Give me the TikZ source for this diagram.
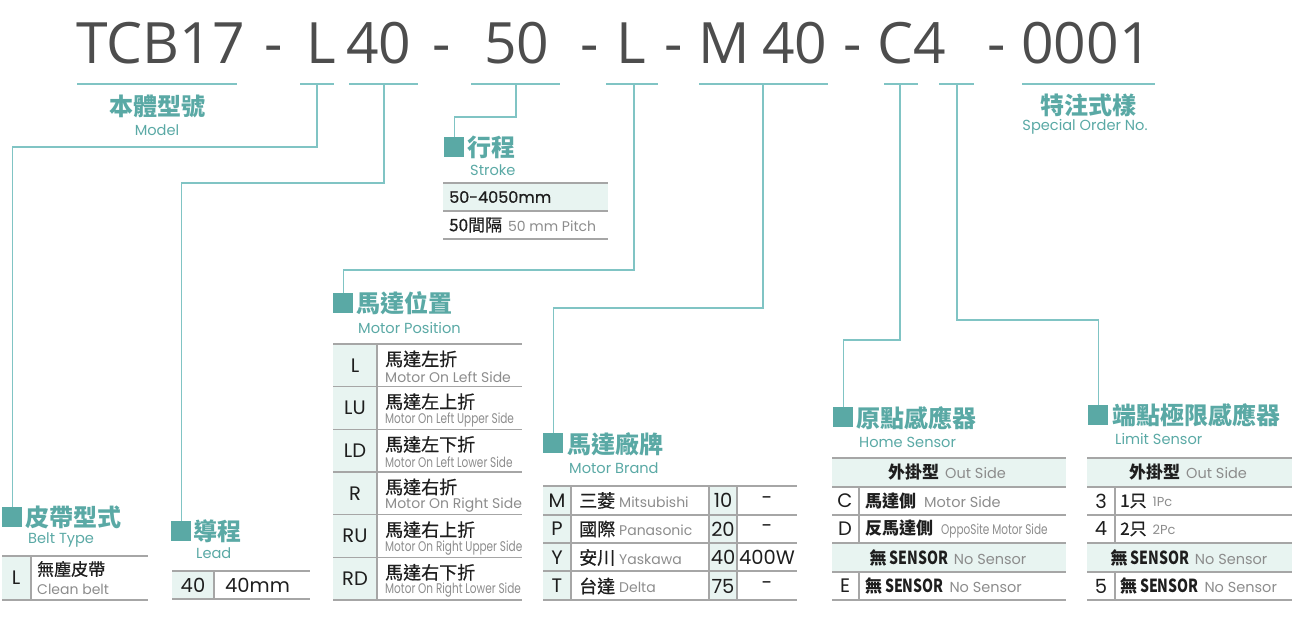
\documentclass[tikz,border=0pt]{standalone}
\usepackage{fontspec}
\usepackage{graphicx}
\setmainfont{Open Sans}
\newfontfamily\cjk{Noto Sans CJK TC}
\newfontfamily\cjkm{Noto Sans CJK TC}[FakeBold=0.6]
\newfontfamily\lat{Poppins}
\newfontfamily\latm{Poppins}[FakeBold=0.5]
\definecolor{teal1}{HTML}{5AA9A5}
\definecolor{lnc}{HTML}{80C4C4}
\definecolor{lbg}{HTML}{E8F4F1}
\definecolor{gridc}{HTML}{A6A6A6}
\definecolor{codec}{HTML}{4D4D4D}
\definecolor{gtx}{HTML}{8C8C8C}
\definecolor{dtx}{HTML}{1E1E1E}
\newcommand{\gr}[1]{\textcolor{gtx}{\lat #1}}
\newcommand{\cond}[1]{\scalebox{0.75}[1]{#1}}
\newcommand{\sen}{{\cjk\bfseries 無}\,\scalebox{0.78}[1]{\cjk\bfseries\fontsize{18}{18}\selectfont SENSOR}}
\begin{document}
\begin{tikzpicture}[x=1pt,y=-1pt,
  codetxt/.style={anchor=base west, inner sep=0, text=codec, font=\fontsize{57}{57}\selectfont},
  uline/.style={draw=lnc, line width=1.3pt},
  conn/.style={draw=lnc, line width=1.3pt},
  sq/.style={fill=teal1, minimum size=20pt, inner sep=0, anchor=north west},
  ttl/.style={anchor=west, inner sep=0, text=teal1, font=\cjk\bfseries\fontsize{24}{24}\selectfont},
  sub/.style={anchor=west, inner sep=0, text=teal1, font=\lat\fontsize{14.6}{14.6}\selectfont},
  gl/.style={draw=gridc, line width=1.2pt},
  bgc/.style={fill=lbg},
  cn/.style={anchor=west, inner sep=0, text=dtx, font=\cjkm\fontsize{17}{17}\selectfont},
  en/.style={anchor=west, inner sep=0, text=gtx, font=\lat\fontsize{13}{13}\selectfont},
  cd/.style={inner sep=0, text=dtx, font=\lat\fontsize{19.5}{19.5}\selectfont},
]
\useasboundingbox (0,0) rectangle (1300,616);

% ---------- code line ----------
\node[codetxt] (c1) at (76,63) {TCB17};
\node[codetxt] (c2) at (264,63) {-};
\node[codetxt] (c3) at (306,63) {L};
\node[codetxt] (c4) at (346,63) {40};
\node[codetxt] (c5) at (432,63) {-};
\node[codetxt] (c6) at (484,63) {50};
\node[codetxt] (c7) at (580,63) {-};
\node[codetxt] (c8) at (616,63) {L};
\node[codetxt] (c9) at (664,63) {-};
\node[codetxt] (c10) at (698,63) {M};
\node[codetxt] (c11) at (762,63) {40};
\node[codetxt] (c12) at (843,63) {-};
\node[codetxt] (c13) at (877,63) {C4};
\node[codetxt] (c14) at (987,63) {-};
\node[codetxt] (c15) at (1021,63) {0001};

% underlines
\draw[uline] (77,84) -- (237,84);
\draw[uline] (300,84) -- (334,84);
\draw[uline] (349,84) -- (418,84);
\draw[uline] (471,84) -- (560,84);
\draw[uline] (606,84) -- (658,84);
\draw[uline] (699,84) -- (828,84);
\draw[uline] (884,84) -- (918,84);
\draw[uline] (939,84) -- (974,84);
\draw[uline] (1022,84) -- (1155,84);

% ---------- squares ----------
\node[sq] (sqBelt) at (2,507) {};
\node[sq] (sqLead) at (171,521) {};
\node[sq] (sqStroke) at (444,137) {};
\node[sq] (sqPos) at (333,293) {};
\node[sq] (sqBrand) at (543,433) {};
\node[sq] (sqHome) at (833,407) {};
\node[sq] (sqLim) at (1088,405) {};

% ---------- connectors ----------
\coordinate (t1) at (317,84);  \coordinate (k1) at (317,147);
\coordinate (t2) at (384,84);  \coordinate (k2) at (384,183);
\coordinate (t3) at (516,84);  \coordinate (k3) at (516,117);
\coordinate (t4) at (634,84);  \coordinate (k4) at (634,270);
\coordinate (t5) at (763,84);  \coordinate (k5) at (763,308);
\coordinate (t6) at (900,84);  \coordinate (k6) at (900,340);
\coordinate (t7) at (957,84);  \coordinate (k7) at (957,320);
\draw[conn] (t1) -- (k1) -| (sqBelt.north);
\draw[conn] (t2) -- (k2) -| (sqLead.north);
\draw[conn] (t3) -- (k3) -| (sqStroke.north);
\draw[conn] (t4) -- (k4) -| (sqPos.north);
\draw[conn] (t5) -- (k5) -| (sqBrand.north);
\draw[conn] (t6) -- (k6) -| (sqHome.north);
\draw[conn] (t7) -- (k7) -| (sqLim.north);

% ---------- titles ----------
\node[ttl, anchor=center] (tModel) at (157,106) {本體型號};
\node[sub, anchor=center] (sModel) at (157,130) {Model};
\node[ttl, anchor=center] (tSpec) at (1088,105) {特注式樣};
\node[sub, anchor=center] (sSpec) at (1085,127) {Special Order No.};
\node[ttl] (tBelt) at (25,517) {皮帶型式};
\node[sub] (sBelt) at (28,540) {Belt Type};
\node[ttl] (tLead) at (193,531) {導程};
\node[sub] (sLead) at (196,553) {Lead};
\node[ttl] (tStroke) at (467,147) {行程};
\node[sub] (sStroke) at (470,170) {Stroke};
\node[ttl] (tPos) at (356,303) {馬達位置};
\node[sub] (sPos) at (358,328) {Motor Position};
\node[ttl] (tBrand) at (567,444) {馬達廠牌};
\node[sub] (sBrand) at (569,468) {Motor Brand};
\node[ttl] (tHome) at (856,418) {原點感應器};
\node[sub] (sHome) at (859,442) {Home Sensor};
\node[ttl] (tLim) at (1112,415) {端點極限感應器};
\node[sub] (sLim) at (1115,439) {Limit Sensor};

% ---------- Belt table ----------
\fill[bgc] (2,556) rectangle (31,600);
\draw[gl] (2,556) -- (148,556);
\draw[gl] (2,600) -- (148,600);
\draw[gl] (31,556) -- (31,600);
\node[cd] (bL) at (16,578) {L};
\node[cn] (bZ) at (37,569) {無塵皮帶};
\node[en, font=\lat\fontsize{14}{14}\selectfont] (bE) at (37,589) {Clean belt};

% ---------- Lead table ----------
\fill[bgc] (172,571) rectangle (214,599);
\draw[gl] (172,571) -- (310,571);
\draw[gl] (172,599) -- (310,599);
\draw[gl] (214,571) -- (214,599);
\node[cd] (l40) at (193,585) {40};
\node[cd, anchor=west] (l40mm) at (225,585) {40mm};

% ---------- Stroke table ----------
\fill[bgc] (443,183) rectangle (608,211);
\draw[gl] (443,183) -- (608,183);
\draw[gl] (443,211) -- (608,211);
\draw[gl] (443,239) -- (608,239);
\node[cd, anchor=west, font=\latm\fontsize{16}{16}\selectfont] (s1) at (449,197) {50-4050mm};
\node[cn] (s2) at (449,225) {50間隔\hspace{6pt}\gr{\fontsize{14}{14}\selectfont 50 mm Pitch}};

% ---------- Motor position table ----------
\fill[bgc] (333,344) rectangle (377,600);
\foreach \yy in {344,386.67,429.33,472,514.67,557.33,600}
  \draw[gl] (333,\yy) -- (522,\yy);
\draw[gl] (377,344) -- (377,600);
\foreach [count=\i] \cc/\zz/\ee in {
  L/馬達左折/{Motor On Left Side},
  LU/馬達左上折/{\cond{Motor On Left Upper Side}},
  LD/馬達左下折/{\cond{Motor On Left Lower Side}},
  R/馬達右折/{Motor On Right Side},
  RU/馬達右上折/{\cond{Motor On Right Upper Side}},
  RD/馬達右下折/{\cond{Motor On Right Lower Side}}}
{
  \pgfmathsetmacro{\top}{344+42.667*(\i-1)}
  \node[cd] (mp\i c) at (355,\top+21.3) {\cc};
  \node[cn, font=\cjkm\fontsize{18}{18}\selectfont] (mp\i z) at (385,\top+15) {\zz};
  \node[en, font=\lat\fontsize{14}{14}\selectfont] (mp\i e) at (385,\top+33) {\ee};
}

% ---------- Motor brand table ----------
\fill[bgc] (543,486) rectangle (571,600);
\fill[bgc] (709,486) rectangle (737,600);
\foreach \yy in {486,515,543,571,600}
  \draw[gl] (543,\yy) -- (797,\yy);
\foreach \xx in {571,709,737}
  \draw[gl] (\xx,486) -- (\xx,600);
\foreach [count=\i] \cc/\zz/\ee/\nn/\ww in {
  M/三菱/Mitsubishi/10/-,
  P/國際/Panasonic/20/-,
  Y/安川/Yaskawa/40/400W,
  T/台達/Delta/75/-}
{
  \pgfmathsetmacro{\mid}{486+28.5*(\i-1)+14.5}
  \node[cd] (mb\i c) at (557,\mid) {\cc};
  \node[cn, font=\cjkm\fontsize{18}{18}\selectfont] (mb\i z) at (579,\mid) {\zz\hspace{4pt}\gr{\fontsize{14}{14}\selectfont\ee}};
  \node[cd] (mb\i n) at (723,\mid) {\nn};
  \node[cd] (mb\i w) at (767,\mid) {\ww};
}

% ---------- Home sensor table ----------
\fill[bgc] (832,458) rectangle (1066,487);
\fill[bgc] (832,543) rectangle (1066,572);
\foreach \yy in {458,487,515,543,572,600}
  \draw[gl] (832,\yy) -- (1066,\yy);
\draw[gl] (859,487) -- (859,543);
\draw[gl] (859,572) -- (859,600);
\node[cn, anchor=center] (h1) at (947,472.5) {{\cjk\bfseries 外掛型}\hspace{6pt}\gr{\fontsize{14.5}{14.5}\selectfont Out Side}};
\node[cd] (h2c) at (845,501) {C};
\node[cn] (h2) at (865,501) {{\cjk\bfseries 馬達側}\hspace{8pt}\gr{\fontsize{14.5}{14.5}\selectfont Motor Side}};
\node[cd] (h3c) at (845,529) {D};
\node[cn] (h3) at (865,529) {{\cjk\bfseries 反馬達側}\hspace{8pt}\gr{\fontsize{14}{14}\selectfont\cond{OppoSite Motor Side}}};
\node[cn, anchor=center] (h4) at (948,557.5) {\sen\hspace{6pt}\gr{\fontsize{14.5}{14.5}\selectfont No Sensor}};
\node[cd] (h5c) at (845,586) {E};
\node[cn] (h5) at (865,586) {\sen\hspace{6pt}\gr{\fontsize{14.5}{14.5}\selectfont No Sensor}};

% ---------- Limit sensor table ----------
\fill[bgc] (1087,458) rectangle (1292,487);
\fill[bgc] (1087,543) rectangle (1292,572);
\foreach \yy in {458,487,515,543,572,600}
  \draw[gl] (1087,\yy) -- (1292,\yy);
\draw[gl] (1115,487) -- (1115,543);
\draw[gl] (1115,572) -- (1115,600);
\node[cn, anchor=center] (g1) at (1188,472.5) {{\cjk\bfseries 外掛型}\hspace{6pt}\gr{\fontsize{14.5}{14.5}\selectfont Out Side}};
\node[cd] (g2c) at (1101,501) {3};
\node[cn] (g2) at (1120,501) {1只\hspace{6pt}\gr{\fontsize{13}{13}\selectfont 1Pc}};
\node[cd] (g3c) at (1101,529) {4};
\node[cn] (g3) at (1120,529) {2只\hspace{6pt}\gr{\fontsize{13}{13}\selectfont 2Pc}};
\node[cn, anchor=center] (g4) at (1189,557.5) {\sen\hspace{6pt}\gr{\fontsize{14.5}{14.5}\selectfont No Sensor}};
\node[cd] (g5c) at (1101,586) {5};
\node[cn] (g5) at (1120,586) {\sen\hspace{6pt}\gr{\fontsize{14.5}{14.5}\selectfont No Sensor}};
\end{tikzpicture}
\end{document}
